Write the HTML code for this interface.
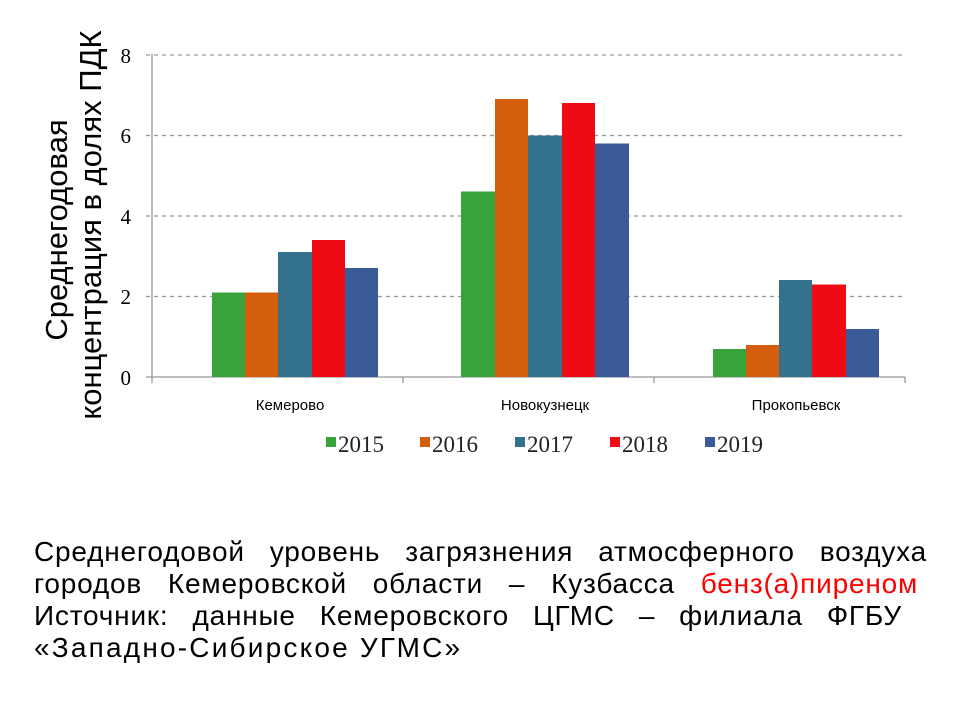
<!DOCTYPE html>
<html><head><meta charset="utf-8"><style>
body{margin:0;background:#fff;width:960px;height:720px;overflow:hidden;position:relative;font-family:"Liberation Sans",sans-serif}
.l{position:absolute;left:34px;font-size:28px;letter-spacing:0.8px;line-height:32px;height:32px;color:#000;white-space:nowrap;text-align:justify;text-align-last:justify;overflow:hidden}
</style></head><body>
<svg width="960" height="720" style="position:absolute;left:0;top:0">
<g stroke="#999" stroke-dasharray="4,4" stroke-width="1.3">
<line x1="146" y1="55" x2="905" y2="55"/><line x1="146" y1="135.5" x2="905" y2="135.5"/>
<line x1="146" y1="216" x2="905" y2="216"/><line x1="146" y1="296.5" x2="905" y2="296.5"/>
</g>
<g stroke="#999" stroke-width="1.3">
<line x1="152" y1="54" x2="152" y2="377"/><line x1="146" y1="377" x2="905" y2="377"/>
<line x1="152" y1="377" x2="152" y2="383"/><line x1="403" y1="377" x2="403" y2="383"/>
<line x1="654" y1="377" x2="654" y2="383"/><line x1="905" y1="377" x2="905" y2="383"/>
</g>
<g font-family="Liberation Serif,serif" font-size="21" text-anchor="end" fill="#000">
<text x="131" y="63">8</text><text x="131" y="143">6</text><text x="131" y="224">4</text><text x="131" y="304">2</text><text x="131" y="385">0</text>
</g>
<g>
<rect x="212" y="292.5" width="33" height="84.5" fill="#38a33a"/>
<rect x="245" y="292.5" width="33" height="84.5" fill="#d55e0c"/>
<rect x="278" y="252" width="34" height="125" fill="#33718c"/>
<rect x="312" y="240" width="33" height="137" fill="#ee0b16"/>
<rect x="345" y="268" width="33" height="109" fill="#3a5b98"/>
<rect x="461" y="191.5" width="34" height="185.5" fill="#38a33a"/>
<rect x="495" y="99" width="33" height="278" fill="#d55e0c"/>
<rect x="528" y="135.5" width="34" height="241.5" fill="#33718c"/>
<rect x="562" y="103" width="33" height="274" fill="#ee0b16"/>
<rect x="595" y="143.5" width="34" height="233.5" fill="#3a5b98"/>
<rect x="713" y="349" width="33" height="28" fill="#38a33a"/>
<rect x="746" y="345" width="33" height="32" fill="#d55e0c"/>
<rect x="779" y="280" width="33" height="97" fill="#33718c"/>
<rect x="812" y="284.5" width="34" height="92.5" fill="#ee0b16"/>
<rect x="846" y="329" width="33" height="48" fill="#3a5b98"/>
</g>
<g font-size="15" text-anchor="middle" fill="#000">
<text x="290" y="410">Кемерово</text><text x="545" y="410">Новокузнецк</text><text x="796" y="410">Прокопьевск</text>
</g>
<g font-family="Liberation Serif,serif" font-size="23" fill="#222">
<rect x="326" y="437" width="10" height="10" fill="#38a33a"/><text x="338" y="452">2015</text>
<rect x="420" y="437" width="10" height="10" fill="#d55e0c"/><text x="432" y="452">2016</text>
<rect x="515" y="437" width="10" height="10" fill="#33718c"/><text x="527" y="452">2017</text>
<rect x="610" y="437" width="10" height="10" fill="#ee0b16"/><text x="622" y="452">2018</text>
<rect x="705" y="437" width="10" height="10" fill="#3a5b98"/><text x="717" y="452">2019</text>
</g>
<g font-size="31" text-anchor="middle" fill="#000">
<text transform="translate(67,230) rotate(-90)">Среднегодовая</text>
<text transform="translate(101,225) rotate(-90)">концентрация в долях ПДК</text>
</g>
</svg>
<div class="l" style="top:536px;width:893px">Среднегодовой уровень загрязнения атмосферного воздуха</div>
<div class="l" style="top:568px;width:884px">городов Кемеровской области – Кузбасса <span style="color:#f00">бенз(а)пиреном</span></div>
<div class="l" style="top:600px;width:868px">Источник: данные Кемеровского ЦГМС – филиала ФГБУ</div>
<div class="l" style="top:632px;text-align:left;text-align-last:left;letter-spacing:2.2px">«Западно-Сибирское УГМС»</div>
</body></html>
